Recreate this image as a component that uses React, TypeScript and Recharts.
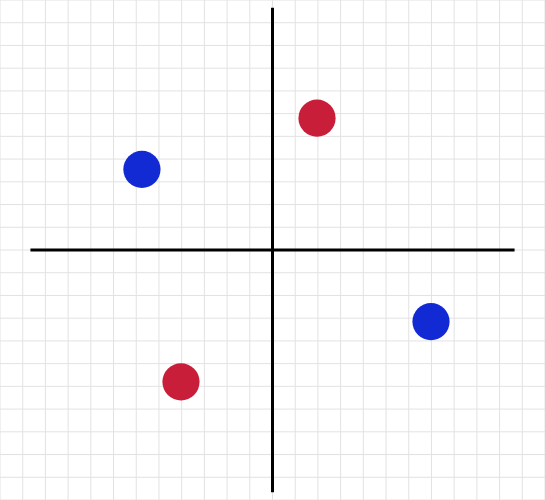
import {
  ScatterChart,
  Scatter,
  XAxis,
  YAxis,
  CartesianGrid,
  ReferenceLine,
} from "recharts";

const xTicks = [-12, -11, -10, -9, -8, -7, -6, -5, -4, -3, -2, -1, 0, 1, 2, 3, 4, 5, 6, 7, 8, 9, 10, 11, 12];
const yTicks = [-11, -10, -9, -8, -7, -6, -5, -4, -3, -2, -1, 0, 1, 2, 3, 4, 5, 6, 7, 8, 9, 10, 11];

const bluePoints = [
  { x: -5.75, y: 3.55 },
  { x: 6.98, y: -3.15 },
];
const redPoints = [
  { x: 1.96, y: 5.8 },
  { x: -4.03, y: -5.8 },
];

const axisReach = 10.66;

const Dot = (props: any) => {
  const { cx, cy, fill } = props;
  return <circle cx={cx} cy={cy} r={18.6} fill={fill} />;
};

export default function App() {
  return (
    <div style={{ position: "fixed", left: 0, top: 0, background: "#fff" }}>
      <ScatterChart
        width={545}
        height={500}
        margin={{ top: 0, right: 0, bottom: 0, left: 0 }}
      >
        <CartesianGrid stroke="#e2e2e2" strokeWidth={1} />
        <XAxis
          type="number"
          dataKey="x"
          domain={[-12, 12]}
          ticks={xTicks}
          interval={0}
          hide
        />
        <YAxis
          type="number"
          dataKey="y"
          domain={[-11, 11]}
          ticks={yTicks}
          interval={0}
          hide
        />
        <ReferenceLine
          segment={[
            { x: -axisReach, y: 0 },
            { x: axisReach, y: 0 },
          ]}
          stroke="#000"
          strokeWidth={3}
        />
        <ReferenceLine
          segment={[
            { x: 0, y: -axisReach },
            { x: 0, y: axisReach },
          ]}
          stroke="#000"
          strokeWidth={3}
        />
        <Scatter
          data={bluePoints}
          fill="#122ad4"
          shape={<Dot />}
          isAnimationActive={false}
        />
        <Scatter
          data={redPoints}
          fill="#c81e3a"
          shape={<Dot />}
          isAnimationActive={false}
        />
      </ScatterChart>
    </div>
  );
}
